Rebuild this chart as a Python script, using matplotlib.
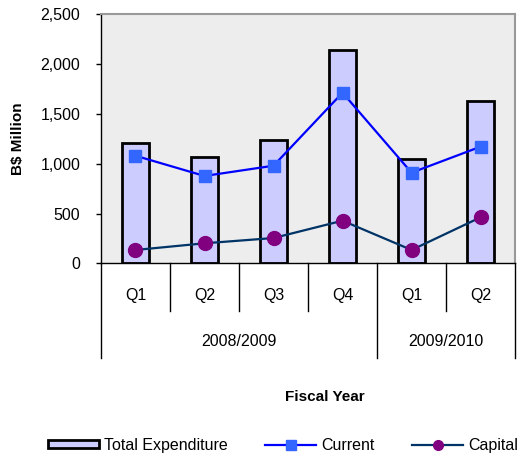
import matplotlib.pyplot as plt
from matplotlib.patches import Patch
from matplotlib.lines import Line2D

plt.rcParams["font.family"] = ["Liberation Sans", "DejaVu Sans"]

quarters = ["Q1", "Q2", "Q3", "Q4", "Q1", "Q2"]
years = ["2008/2009", "2009/2010"]
year_spans = [(0, 4), (4, 6)]
total = [1210, 1070, 1235, 2140, 1045, 1630]
current = [1080, 877, 980, 1713, 910, 1171]
capital = [134, 201, 254, 428, 134, 462]

FS = 11.5

fig = plt.figure(figsize=(5.24, 4.57), dpi=100)
ax = fig.add_axes([0.1927, 0.4238, 0.7903, 0.5449])
ax.set_facecolor("#ededed")

x = list(range(len(quarters)))
ax.bar(x, total, width=0.4, color="#ccccff", edgecolor="black", linewidth=2, zorder=2)
ax.plot(x, current, color="#0000ff", linewidth=1.6, marker="s", markersize=9,
        markerfacecolor="#3366ff", markeredgecolor="#3366ff", zorder=3)
ax.plot(x, capital, color="#003366", linewidth=1.6, marker="o", markersize=10,
        markerfacecolor="#800080", markeredgecolor="#800080", zorder=3)

ax.set_xlim(-0.5, len(quarters) - 0.5)
ax.set_ylim(0, 2500)
ax.set_yticks(range(0, 2501, 500))
ax.set_yticklabels([f"{v:,}" for v in range(0, 2501, 500)], fontsize=FS)
ax.tick_params(axis="y", direction="out", length=3.5, width=1, pad=11.5)
ax.set_xticks([])

for side in ["top", "right"]:
    ax.spines[side].set_color("#999999")
    ax.spines[side].set_linewidth(1.5)
ax.spines["left"].set_linewidth(1)
ax.spines["bottom"].set_linewidth(1)

ax.set_ylabel("B$ Million", fontsize=11, fontweight="bold", labelpad=11)

# two-level category axis drawn below the plot
tr = ax.get_xaxis_transform()
q_bottom, y_bottom = -0.190, -0.379
year_edges = {s for s, _ in year_spans} | {e for _, e in year_spans}
for i in range(len(quarters) + 1):
    low = y_bottom if i in year_edges else q_bottom
    ax.plot([i - 0.5, i - 0.5], [0, low], transform=tr, color="black",
            linewidth=1, clip_on=False)
for i, q in enumerate(quarters):
    ax.text(i, -0.128, q, transform=tr, ha="center", va="center", fontsize=FS)
for (s, e), yr in zip(year_spans, years):
    ax.text((s + e - 1) / 2, -0.315, yr, transform=tr, ha="center", va="center",
            fontsize=FS)
ax.text(2.75, -0.536, "Fiscal Year", transform=tr, ha="center", va="center",
        fontsize=11, fontweight="bold")

handles = [
    Patch(facecolor="#ccccff", edgecolor="black", linewidth=2),
    Line2D([0], [0], color="#0000ff", linewidth=1.6, marker="s", markersize=7,
           markerfacecolor="#3366ff", markeredgecolor="#3366ff"),
    Line2D([0], [0], color="#003366", linewidth=1.6, marker="o", markersize=7,
           markerfacecolor="#800080", markeredgecolor="#800080"),
]
fig.legend(handles, ["Total Expenditure", "Current", "Capital"], loc="center",
           bbox_to_anchor=(0.54, 0.026), ncol=3, frameon=False, fontsize=FS,
           handlelength=3.2, handleheight=0.45, handletextpad=0.3,
           columnspacing=2.35)

fig.savefig("out.png", dpi=100)
